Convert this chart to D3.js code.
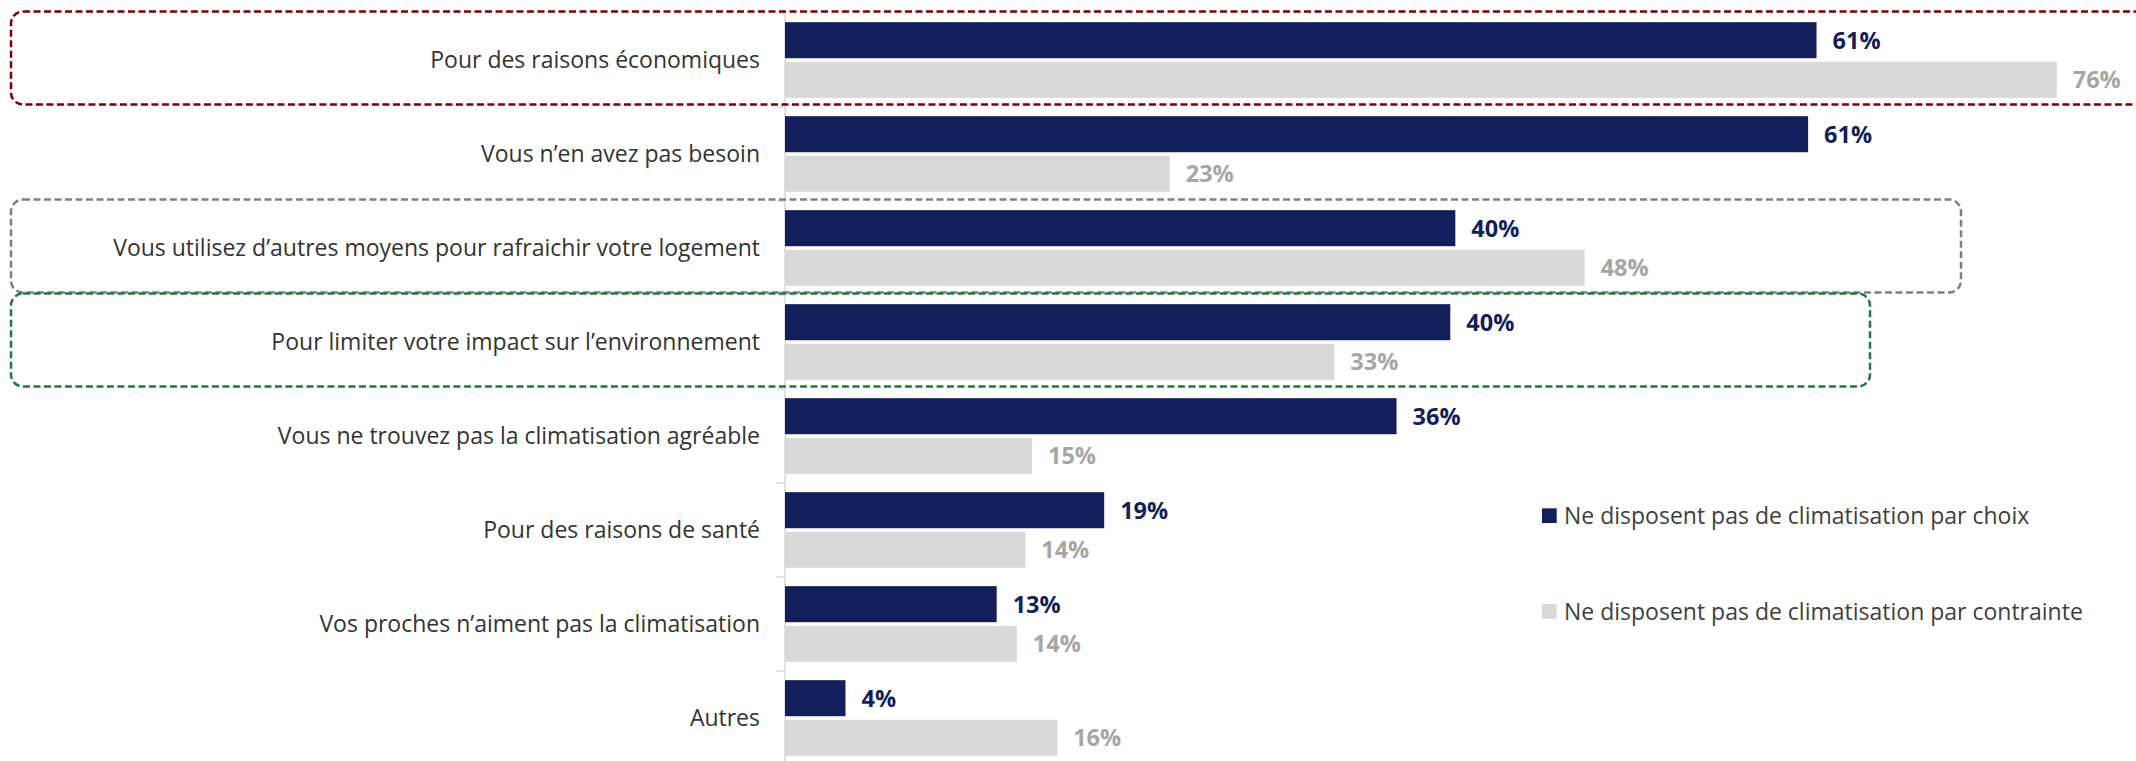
<!DOCTYPE html>
<html>
<head>
<meta charset="utf-8">
<script src="https://cdn.jsdelivr.net/npm/d3@7"></script>
<style>
  html, body { margin: 0; padding: 0; background: #ffffff; }
  svg { display: block; }
  text { font-family: "Open Sans", "Noto Sans", sans-serif; }
</style>
</head>
<body>
<svg id="chart" width="2136" height="761"></svg>
<script>
// ---- data ----
const categories = [
  "Pour des raisons économiques",
  "Vous n’en avez pas besoin",
  "Vous utilisez d’autres moyens pour rafraichir votre logement",
  "Pour limiter votre impact sur l’environnement",
  "Vous ne trouvez pas la climatisation agréable",
  "Pour des raisons de santé",
  "Vos proches n’aiment pas la climatisation",
  "Autres"
];
const seriesNames = [
  "Ne disposent pas de climatisation par choix",
  "Ne disposent pas de climatisation par contrainte"
];
const choixValues      = [61.4, 60.9, 39.9, 39.6, 36.4, 19.0, 12.6, 3.6];
const contrainteValues = [75.7, 22.9, 47.6, 32.7, 14.7, 14.3, 13.8, 16.2];
const highlighted = [
  "Pour des raisons économiques",
  "Vous utilisez d’autres moyens pour rafraichir votre logement",
  "Pour limiter votre impact sur l’environnement"
];

// ---- layout ----
const W = 2136, H = 761;
const axisX = 785;
const colors = ["#131f5a", "#d9d9d9"];
const labelColors = ["#131f5a", "#a6a6a6"];
const boxColors = ["#7f0000", "#7f7f7f", "#1e7b3e"];
const boxRight = [2160, 1961, 1870];

const svg = d3.select("#chart");

const rows = categories.map((c, i) => ({cat: c, vals: [choixValues[i], contrainteValues[i]]}));

const x = d3.scaleLinear().domain([0, 80]).range([axisX, axisX + 80 * 16.8]);
const y = d3.scaleBand().domain(categories).range([13, 765])
  .paddingInner(0.195).paddingOuter(0.0975);
const yInner = d3.scaleBand().domain([0, 1]).range([0, y.bandwidth()]).paddingInner(0.09);

const fmt = v => d3.format(".0%")(Math.round(v) / 100);

// axis line and ticks
const step = y.step();
const r0 = y.range()[0];
svg.append("line")
  .attr("x1", axisX).attr("x2", axisX)
  .attr("y1", r0).attr("y2", H)
  .attr("stroke", "#d9d9d9").attr("stroke-width", 1.5);
svg.append("g").selectAll("line")
  .data(d3.range(categories.length + 1))
  .join("line")
  .attr("x1", axisX - 8).attr("x2", axisX)
  .attr("y1", i => r0 + i * step).attr("y2", i => r0 + i * step)
  .attr("stroke", "#d9d9d9").attr("stroke-width", 1.5);

// bars
const g = svg.append("g");
const rowG = g.selectAll("g.row").data(rows).join("g")
  .attr("class", "row")
  .attr("transform", d => `translate(0,${y(d.cat)})`);

rowG.selectAll("rect")
  .data(d => d.vals.map((v, k) => ({v, k})))
  .join("rect")
  .attr("x", x(0))
  .attr("y", d => yInner(d.k))
  .attr("width", d => x(d.v) - x(0))
  .attr("height", yInner.bandwidth())
  .attr("fill", d => colors[d.k]);

rowG.selectAll("text.val")
  .data(d => d.vals.map((v, k) => ({v, k})))
  .join("text")
  .attr("class", "val")
  .attr("x", d => x(d.v) + 16)
  .attr("y", d => yInner(d.k) + yInner.bandwidth() / 2)
  .attr("dy", "0.36em")
  .attr("font-size", 23.5)
  .attr("font-weight", 700)
  .attr("fill", d => labelColors[d.k])
  .text(d => fmt(d.v));

// category labels
svg.append("g").selectAll("text")
  .data(categories)
  .join("text")
  .attr("x", axisX - 25)
  .attr("y", d => y(d) + y.bandwidth() / 2)
  .attr("dy", "0.36em")
  .attr("text-anchor", "end")
  .attr("font-size", 23)
  .attr("fill", "#333333")
  .text(d => d);

// legend
const legend = svg.append("g").attr("transform", "translate(1542,0)");
const legY = [515.7, 611.3];
seriesNames.forEach((name, k) => {
  legend.append("rect")
    .attr("x", 0).attr("y", legY[k] - 7.35)
    .attr("width", 14.7).attr("height", 14.7)
    .attr("fill", colors[k]);
  legend.append("text")
    .attr("x", 22).attr("y", legY[k])
    .attr("dy", "0.36em")
    .attr("font-size", 23)
    .attr("fill", "#404040")
    .text(name);
});

// dashed highlight boxes
highlighted.forEach((cat, j) => {
  const i = categories.indexOf(cat);
  const top = r0 + i * step - 1.5;
  const bottom = r0 + (i + 1) * step - 2.5;
  svg.append("rect")
    .attr("x", 11).attr("y", top)
    .attr("width", boxRight[j] - 11).attr("height", bottom - top)
    .attr("rx", 12).attr("ry", 12)
    .attr("fill", "none")
    .attr("stroke", boxColors[j])
    .attr("stroke-width", 2.5)
    .attr("stroke-dasharray", "7,3.5");
});
</script>
</body>
</html>
